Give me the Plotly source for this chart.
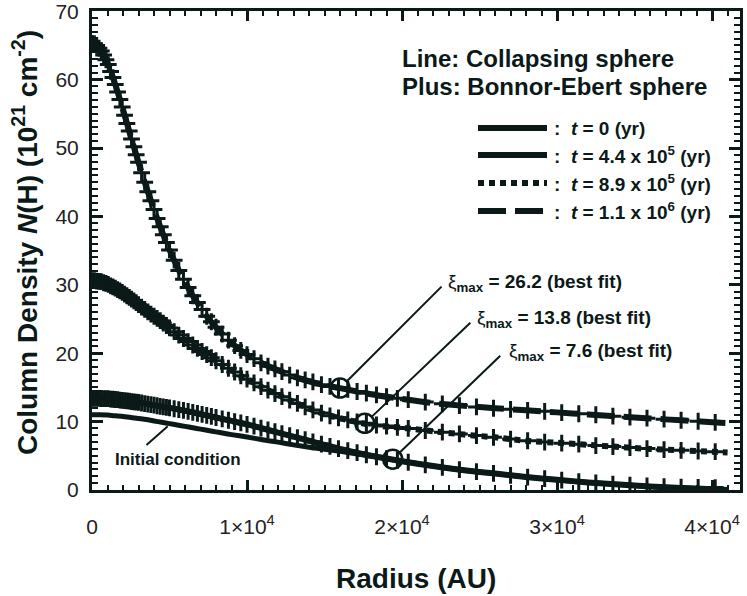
import plotly.graph_objects as go

INK = '#0b1919'
FONT = 'Liberation Sans'

# ---------------- data ----------------
# collapsing-sphere profiles (lines), radius in AU, N(H) in 1e21 cm^-2
r_line = [0, 500, 1000, 1500, 2000, 2500, 3000, 3500, 4000, 4500, 5000, 5500, 6000, 6500, 7000,
          7500, 8000, 8500, 9000, 10000, 11000, 12000, 13000, 14000, 15000, 16000, 18000, 20000,
          22000, 24000, 26000, 28000, 30000, 32000, 34000, 36000, 38000, 40000, 41000]
n_t0 = [11.0, 11.0, 10.95, 10.85, 10.75, 10.6, 10.45, 10.3, 10.1, 9.9, 9.7, 9.5, 9.3, 9.1, 8.9,
        8.7, 8.5, 8.3, 8.1, 7.75, 7.35, 7.0, 6.6, 6.25, 5.95, 5.65, 4.95, 4.2,
        3.5, 2.9, 2.4, 1.9, 1.5, 1.1, 0.8, 0.5, 0.3, 0.1, 0.0]
n_t44 = [13.4, 13.4, 13.35, 13.25, 13.1, 12.95, 12.8, 12.6, 12.4, 12.2, 12.0, 11.8, 11.6, 11.35, 11.1,
         10.85, 10.6, 10.35, 10.1, 9.6, 9.0, 8.4, 7.8, 7.2, 6.6, 6.0, 5.0, 4.2,
         3.5, 2.9, 2.4, 1.9, 1.5, 1.1, 0.8, 0.5, 0.3, 0.1, 0.0]
n_t89 = [30.6, 30.5, 30.1, 29.5, 28.8, 28.0, 27.1, 26.2, 25.4, 24.6, 23.7, 22.8, 22.0, 21.2, 20.4,
         19.65, 18.9, 18.2, 17.5, 16.2, 15.0, 13.9, 12.9, 11.9, 11.1, 10.5, 9.5, 9.1,
         8.6, 8.1, 7.7, 7.2, 6.9, 6.6, 6.3, 6.0, 5.8, 5.6, 5.5]
n_t110 = [65.3, 64.6, 62.5, 59.3, 55.6, 51.7, 47.9, 44.3, 41.0, 37.9, 35.1, 32.6, 30.4, 28.4, 26.7,
          25.1, 23.8, 22.6, 21.5, 19.8, 18.5, 17.5, 16.6, 15.9, 15.3, 14.9, 14.0, 13.3,
          12.7, 12.3, 11.95, 11.65, 11.35, 11.05, 10.75, 10.45, 10.2, 9.9, 9.8]

# Bonnor-Ebert fits (plus markers)
r_be = [0, 150, 300, 450, 600, 750, 900, 1050, 1200, 1350, 1500, 1650, 1800, 1950, 2100, 2250, 2400,
        2550, 2700, 2850, 3000,
        3200, 3400, 3600, 3800, 4000, 4200, 4400, 4600, 4800, 5000,
        5300, 5600, 5900, 6200, 6500, 6800, 7100, 7400, 7700, 8000,
        8400, 8800, 9200, 9600, 10000, 10450, 10900, 11350, 11800, 12250, 12750, 13250, 13750,
        14250, 14800, 15350, 15900, 16500, 17100, 17700, 18350, 19000, 19700, 20400,
        21500, 22600, 23700, 24800, 25900, 27000, 28100, 29200, 30300, 31400, 32500, 33600,
        34700, 35800, 36900, 38000, 39100, 40200]
be_262 = [65.3, 65.25, 65.0, 64.6, 64.2, 63.6, 62.9, 62.2, 61.2, 60.3, 59.3, 58.2, 57.1, 56.0, 54.8,
          53.6, 52.5, 51.3, 50.2, 49.0, 47.9,
          46.4, 45.0, 43.6, 42.3, 41.0, 39.7, 38.5, 37.3, 36.2, 35.1,
          33.6, 32.1, 30.8, 29.6, 28.4, 27.4, 26.4, 25.4, 24.6, 23.8,
          22.8, 21.9, 21.1, 20.4, 19.8, 19.2, 18.6, 18.1, 17.7, 17.3, 16.8, 16.4, 16.1, 15.8, 15.4,
          15.15, 14.95, 14.7, 14.4, 14.15, 13.9, 13.65, 13.4, 13.2,
          12.85, 12.6, 12.35, 12.15, 11.95, 11.8, 11.65, 11.5, 11.3, 11.15, 11.0, 10.8, 10.65, 10.5,
          10.35, 10.2, 10.05, 9.9]
be_138 = [30.6, 30.6, 30.55, 30.5, 30.45, 30.3, 30.2, 30.05, 29.85, 29.7, 29.5, 29.3, 29.1, 28.9,
          28.65, 28.4, 28.15, 27.9, 27.65, 27.4, 27.1,
          26.75, 26.4, 26.05, 25.7, 25.4, 25.1, 24.75, 24.4, 24.05, 23.7,
          23.15, 22.65, 22.15, 21.7, 21.2, 20.7, 20.25, 19.8, 19.35, 18.9,
          18.35, 17.8, 17.25, 16.7, 16.2, 15.65, 15.1, 14.6, 14.1, 13.65, 13.15, 12.65, 12.15, 11.7,
          11.25, 10.85, 10.55, 10.25, 9.95, 9.75, 9.5, 9.35, 9.15, 9.0,
          8.7, 8.45, 8.2, 7.95, 7.7, 7.45, 7.2, 7.0, 6.85, 6.7, 6.5, 6.35, 6.2, 6.05, 5.9, 5.8, 5.7, 5.6]
be_76 = [13.4, 13.4, 13.4, 13.4, 13.38, 13.37, 13.36, 13.35, 13.3, 13.27, 13.23, 13.2, 13.15, 13.1,
         13.07, 13.03, 12.98, 12.93, 12.89, 12.85, 12.8,
         12.72, 12.64, 12.56, 12.48, 12.4, 12.32, 12.24, 12.16, 12.08, 12.0,
         11.88, 11.76, 11.64, 11.5, 11.35, 11.2, 11.05, 10.9, 10.75, 10.6,
         10.4, 10.2, 10.0, 9.8, 9.6, 9.33, 9.06, 8.79, 8.52, 8.25, 7.95, 7.65, 7.35, 7.05, 6.72,
         6.39, 6.06, 5.75, 5.45, 5.15, 4.86, 4.6, 4.32, 4.06,
         3.68, 3.32, 2.99, 2.7, 2.42, 2.15, 1.88, 1.66, 1.44, 1.22, 1.02, 0.86, 0.7, 0.6, 0.5,
         0.42, 0.38, 0.35]

# best-fit xi_max points (circles)
r_fit = [16000, 17600, 19400]
n_fit = [14.9, 9.75, 4.5]
fit_labels = ['26.2', '13.8', '7.6']

# "Initial condition" pointer target
init_r = 5030
init_n = 9.6

x_range = [0, 41800]
y_range = [0, 70.03]
x_tickvals = [0, 10000, 20000, 30000, 40000]
x_ticktext = ['0', '1×10<sup>4</sup>', '2×10<sup>4</sup>', '3×10<sup>4</sup>', '4×10<sup>4</sup>']
y_tickvals = [0, 10, 20, 30, 40, 50, 60, 70]

legend_labels = [':  <i>t</i> = 0 (yr)',
                 ':  <i>t</i> = 4.4 x 10<sup>5</sup> (yr)',
                 ':  <i>t</i> = 8.9 x 10<sup>5</sup> (yr)',
                 ':  <i>t</i> = 1.1 x 10<sup>6</sup> (yr)']
legend_dash = ['solid', 'solid', '6px,5px', '28px,9px']

# ---------------- figure ----------------
fig = go.Figure()

fig.add_trace(go.Scatter(x=r_line, y=n_t0, mode='lines',
                         line=dict(color=INK, width=5, shape='spline', smoothing=0.6)))
fig.add_trace(go.Scatter(x=r_line, y=n_t44, mode='lines',
                         line=dict(color=INK, width=6, shape='spline', smoothing=0.6)))
fig.add_trace(go.Scatter(x=r_line, y=n_t89, mode='lines',
                         line=dict(color=INK, width=6, dash=legend_dash[2], shape='spline', smoothing=0.6)))
fig.add_trace(go.Scatter(x=r_line, y=n_t110, mode='lines',
                         line=dict(color=INK, width=6, dash=legend_dash[3], shape='spline', smoothing=0.6)))

for vals in (be_76, be_138, be_262):
    fig.add_trace(go.Scatter(x=r_be, y=vals, mode='markers',
                             marker=dict(symbol='cross-thin', size=12, color=INK,
                                         line=dict(color=INK, width=3))))

fig.add_trace(go.Scatter(x=r_fit, y=n_fit, mode='markers',
                         marker=dict(symbol='circle-open', size=19, color=INK, line=dict(width=2.5))))

# invisible helper trace so the mirrored tick axes (top / right) are drawn
fig.add_trace(go.Scatter(x=[x_range[0]], y=[y_range[0]], xaxis='x2', yaxis='y2', mode='markers',
                         marker=dict(opacity=0, size=1), hoverinfo='skip'))

annotations = []
offsets = [(103, -103, 106, 105), (107, -102, 110, 104), (109, -105, 114, 107)]
for rf, nf, lab, (ax, ay, xs, ys) in zip(r_fit, n_fit, fit_labels, offsets):
    annotations.append(dict(x=rf, y=nf, xref='x', yref='y', text='', showarrow=True, arrowhead=0,
                            arrowwidth=2, arrowcolor=INK, ax=ax, ay=ay, standoff=9))
    annotations.append(dict(x=rf, y=nf, xref='x', yref='y', showarrow=False,
                            text='ξ<b><sub>max</sub> = ' + lab + ' (best fit)</b>',
                            xanchor='left', yanchor='middle', xshift=xs, yshift=ys,
                            font=dict(family=FONT, size=19, color=INK)))

annotations.append(dict(x=init_r, y=init_n, xref='x', yref='y', text='', showarrow=True, arrowhead=0,
                        arrowwidth=2, arrowcolor=INK, ax=-25, ay=22, standoff=3))
annotations.append(dict(x=init_r, y=init_n, xref='x', yref='y', showarrow=False,
                        text='<b>Initial condition</b>', xanchor='center', yanchor='middle',
                        xshift=8, yshift=-35, font=dict(family=FONT, size=17, color=INK)))

# plot-area pixel geometry helpers (for paper placement of titles/legend)
L, R, T, B = 92, 740, 11, 490
def px(x):
    return (x - L) / (R - L)
def py(y):
    return (B - y) / (B - T)

annotations.append(dict(x=px(25), y=py(243), xref='paper', yref='paper', showarrow=False,
                        text='<b>Column Density <i>N</i>(H) (10<sup>21</sup> cm<sup>-2</sup>)</b>',
                        textangle=-90, xanchor='center', yanchor='middle',
                        font=dict(family=FONT, size=28, color=INK)))
annotations.append(dict(x=px(416), y=py(578), xref='paper', yref='paper', showarrow=False,
                        text='<b>Radius (AU)</b>', xanchor='center', yanchor='middle',
                        font=dict(family=FONT, size=28, color=INK)))
annotations.append(dict(x=px(400), y=py(58), xref='paper', yref='paper', showarrow=False,
                        text='<b>Line: Collapsing sphere</b>', xanchor='left', yanchor='middle',
                        font=dict(family=FONT, size=24, color=INK)))
annotations.append(dict(x=px(400), y=py(87), xref='paper', yref='paper', showarrow=False,
                        text='<b>Plus: Bonnor-Ebert sphere</b>', xanchor='left', yanchor='middle',
                        font=dict(family=FONT, size=24, color=INK)))

shapes = []
rows = [128, 155, 183, 211]
for yrow, lab, dash in zip(rows, legend_labels, legend_dash):
    shapes.append(dict(type='line', xref='paper', yref='paper', x0=px(478), x1=px(547),
                       y0=py(yrow), y1=py(yrow), line=dict(color=INK, width=6, dash=dash)))
    annotations.append(dict(x=px(552), y=py(yrow), xref='paper', yref='paper', showarrow=False,
                            text='<b>' + lab + '</b>', xanchor='left', yanchor='middle',
                            font=dict(family=FONT, size=19, color=INK)))

fig.update_layout(
    width=747, height=596,
    margin=dict(l=L, r=747 - R, t=T, b=596 - B),
    paper_bgcolor='white', plot_bgcolor='white',
    showlegend=False,
    annotations=annotations, shapes=shapes,
    font=dict(family=FONT, color=INK),
)

tick_common = dict(showgrid=False, zeroline=False, ticks='inside', tickwidth=2.5, tickcolor=INK,
                   automargin=False)
xminor = dict(ticks='inside', ticklen=5, tickwidth=2, tickcolor=INK, dtick=1000, tick0=0)
yminor = dict(ticks='inside', ticklen=6, tickwidth=2, tickcolor=INK, dtick=1, tick0=0)
fig.update_layout(
    xaxis=dict(range=x_range, showline=True, linewidth=3, linecolor=INK, mirror=True,
               ticklen=10, tickmode='array', tickvals=x_tickvals, ticktext=x_ticktext,
               tickfont=dict(family=FONT, size=21, color='#222'), ticklabelstandoff=16,
               ticklabeloverflow='allow', minor=xminor, **tick_common),
    yaxis=dict(range=y_range, showline=True, linewidth=3, linecolor=INK, mirror=True,
               ticklen=11, tickmode='array', tickvals=y_tickvals,
               tickfont=dict(family=FONT, size=21, color='#222'), ticklabelstandoff=6,
               ticklabeloverflow='allow', minor=yminor, **tick_common),
    xaxis2=dict(range=x_range, overlaying='x', side='top', anchor='y2', showline=False,
                ticklen=10, tickmode='array', tickvals=x_tickvals, showticklabels=False,
                minor=xminor, **tick_common),
    yaxis2=dict(range=y_range, overlaying='y', side='right', anchor='x2', showline=False,
                ticklen=11, tickmode='array', tickvals=y_tickvals, showticklabels=False,
                minor=yminor, **tick_common),
)

fig.write_html('out.html')
